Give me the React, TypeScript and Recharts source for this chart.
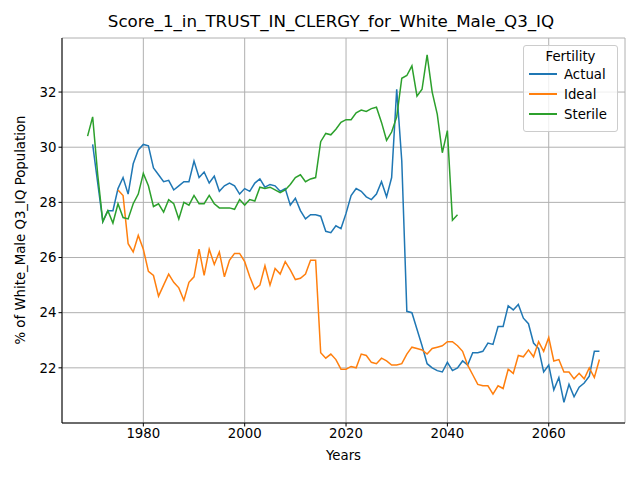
import React from 'react';
import { LineChart, Line, XAxis, YAxis, CartesianGrid } from 'recharts';

const actualStart = 1970;
const actual = [30.1,28.7,27.3,27.7,27.7,28.5,28.9,28.3,29.4,29.9,30.1,30.05,29.25,29.0,28.75,28.8,28.45,28.6,28.75,28.75,29.5,28.9,29.1,28.7,28.95,28.4,28.6,28.7,28.6,28.3,28.5,28.4,28.7,28.85,28.55,28.65,28.6,28.4,28.5,27.9,28.15,27.7,27.4,27.55,27.55,27.5,26.95,26.9,27.15,27.05,27.6,28.25,28.5,28.4,28.2,28.1,28.3,28.75,28.2,28.9,32.1,29.5,24.05,24.0,23.4,22.8,22.15,22.0,21.9,21.85,22.2,21.9,22.0,22.25,22.1,22.55,22.55,22.6,22.9,22.85,23.5,23.5,24.25,24.1,24.3,23.8,23.6,22.9,22.7,21.85,22.1,21.2,21.65,20.75,21.4,20.95,21.3,21.45,21.7,22.6,22.6];
const idealStart = 1975;
const ideal = [28.45,28.25,26.5,26.2,26.8,26.3,25.5,25.35,24.6,25.0,25.4,25.1,24.9,24.45,25.1,25.3,26.3,25.35,26.3,25.75,26.2,25.3,25.9,26.15,26.15,25.85,25.3,24.85,25.0,25.7,25.0,25.6,25.4,25.85,25.55,25.2,25.25,25.4,25.9,25.9,22.55,22.35,22.5,22.3,21.95,21.95,22.05,22.0,22.5,22.45,22.2,22.15,22.35,22.25,22.1,22.1,22.15,22.5,22.75,22.7,22.65,22.5,22.7,22.75,22.8,22.95,22.95,22.8,22.6,22.1,21.75,21.4,21.35,21.35,21.05,21.35,21.25,21.95,21.8,22.45,22.4,22.65,22.4,22.95,22.6,23.1,22.25,22.3,21.85,21.85,21.6,21.8,21.6,22.0,21.65,22.3];
const sterileStart = 1969;
const sterile = [30.4,31.1,29.0,27.3,27.7,27.25,27.95,27.45,27.4,27.95,28.3,29.05,28.6,27.85,27.95,27.65,28.1,27.95,27.4,28.0,27.9,28.25,27.95,27.95,28.25,27.95,27.8,27.8,27.8,27.75,28.1,27.9,28.1,28.05,28.55,28.5,28.55,28.45,28.35,28.45,28.65,28.9,29.0,28.75,28.85,28.9,30.2,30.5,30.45,30.65,30.9,31.0,31.0,31.25,31.35,31.3,31.4,31.45,30.9,30.25,30.55,31.1,32.5,32.6,32.95,31.85,32.1,33.35,32.0,31.2,29.8,30.6,27.35,27.55];
const xTicks = [1980, 2000, 2020, 2040, 2060];
const yTicks = [22, 24, 26, 28, 30, 32];

const years: number[] = [];
for (let y = 1969; y <= 2070; y++) years.push(y);
const data = years.map((year) => ({
  year,
  Actual: year >= actualStart && year - actualStart < actual.length ? actual[year - actualStart] : null,
  Ideal: year >= idealStart && year - idealStart < ideal.length ? ideal[year - idealStart] : null,
  Sterile: year >= sterileStart && year - sterileStart < sterile.length ? sterile[year - sterileStart] : null,
}));

const series = [
  { key: 'Actual', color: '#1f77b4' },
  { key: 'Ideal', color: '#ff7f0e' },
  { key: 'Sterile', color: '#2ca02c' },
];
const font = 'DejaVu Sans, sans-serif';
const tick = { fill: '#000', fontSize: 13.3, fontFamily: font };

export default function App() {
  return (
    <div style={{ position: 'absolute', left: 0, top: 0, width: 640, height: 480, background: '#fff', fontFamily: font }}>
      <LineChart width={640} height={480} data={data} margin={{ top: 38, right: 15, bottom: 0, left: 0 }}>
        <CartesianGrid stroke="#b0b0b0" strokeWidth={1} />
        <XAxis dataKey="year" type="number" domain={[1963.95, 2075.05]} ticks={xTicks} allowDataOverflow
          tick={tick} stroke="#000" tickSize={3.5} height={57} />
        <XAxis xAxisId="top" orientation="top" dataKey="year" type="number" domain={[1963.95, 2075.05]} tick={false} tickLine={false} stroke="#000" height={0} />
        <YAxis domain={[20.0, 33.96]} ticks={yTicks} allowDataOverflow tick={tick} stroke="#000" tickSize={3.5} width={62} />
        <YAxis yAxisId="right" orientation="right" domain={[20.0, 33.96]} tick={false} tickLine={false} stroke="#000" width={0} />
        {series.map((s) => (
          <Line key={s.key} dataKey={s.key} stroke={s.color} strokeWidth={1.5} dot={false} isAnimationActive={false} connectNulls={false} />
        ))}
      </LineChart>
      <div style={{ position: 'absolute', top: 11, left: 0, width: 640, paddingLeft: 22, boxSizing: 'border-box', textAlign: 'center', fontSize: 16.7 }}>
        Score_1_in_TRUST_IN_CLERGY_for_White_Male_Q3_IQ
      </div>
      <div style={{ position: 'absolute', top: 448, left: 62, width: 563, textAlign: 'center', fontSize: 13.3 }}>Years</div>
      <div style={{ position: 'absolute', left: 20, top: 230, transform: 'translate(-50%,-50%) rotate(-90deg)', whiteSpace: 'nowrap', fontSize: 13.3 }}>
        % of White_Male Q3_IQ Population
      </div>
      <div style={{ position: 'absolute', left: 523, top: 45, width: 95, height: 87, border: '1px solid #ccc', borderRadius: 3, background: 'rgba(255,255,255,0.8)', fontSize: 13.3, boxSizing: 'border-box' }}>
        <div style={{ textAlign: 'center', marginTop: 3 }}>Fertility</div>
        {series.map((s) => (
          <div key={s.key} style={{ display: 'flex', alignItems: 'center', height: 20 }}>
            <div style={{ width: 28, height: 2, background: s.color, marginLeft: 5, marginRight: 7 }} />
            <span>{s.key}</span>
          </div>
        ))}
      </div>
    </div>
  );
}
